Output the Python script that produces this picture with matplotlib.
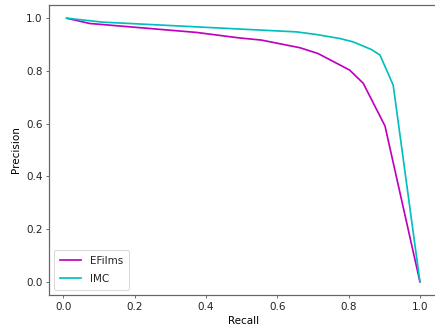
import matplotlib
matplotlib.use("Agg")
import matplotlib.pyplot as plt

# Precision-recall curves
efilms_recall = [0.009, 0.073, 0.373, 0.494, 0.555, 0.663, 0.714, 0.803, 0.841, 0.902, 1.0]
efilms_precision = [1.0, 0.98, 0.946, 0.925, 0.917, 0.888, 0.866, 0.803, 0.753, 0.591, 0.0]

imc_recall = [0.009, 0.11, 0.654, 0.71, 0.775, 0.813, 0.864, 0.888, 0.925, 1.0]
imc_precision = [1.0, 0.985, 0.948, 0.938, 0.923, 0.91, 0.881, 0.86, 0.746, 0.0]

plt.rcParams["font.size"] = 11
plt.rcParams["text.color"] = "#222222"
plt.rcParams["xtick.labelcolor"] = "#222222"
plt.rcParams["ytick.labelcolor"] = "#222222"

W, H, DPI = 435, 331, 68
fig = plt.figure(figsize=(W / DPI, H / DPI), dpi=DPI)
ax = fig.add_axes([49 / W, (H - 295) / H, (437.6 - 49) / W, (295 - 5) / H])

ax.plot(efilms_recall, efilms_precision, color="m", lw=1.8, label="EFilms")
ax.plot(imc_recall, imc_precision, color="c", lw=1.8, label="IMC")

for s in ax.spines.values():
    s.set_color("#666666")
    s.set_linewidth(1.3)
ax.tick_params(color="#444444")

ax.set_xlabel("Recall", labelpad=5)
ax.set_ylabel("Precision", labelpad=5)
ax.legend(loc="lower left", labelspacing=0.75, borderpad=0.6)

fig.savefig("out.png", dpi=DPI)
